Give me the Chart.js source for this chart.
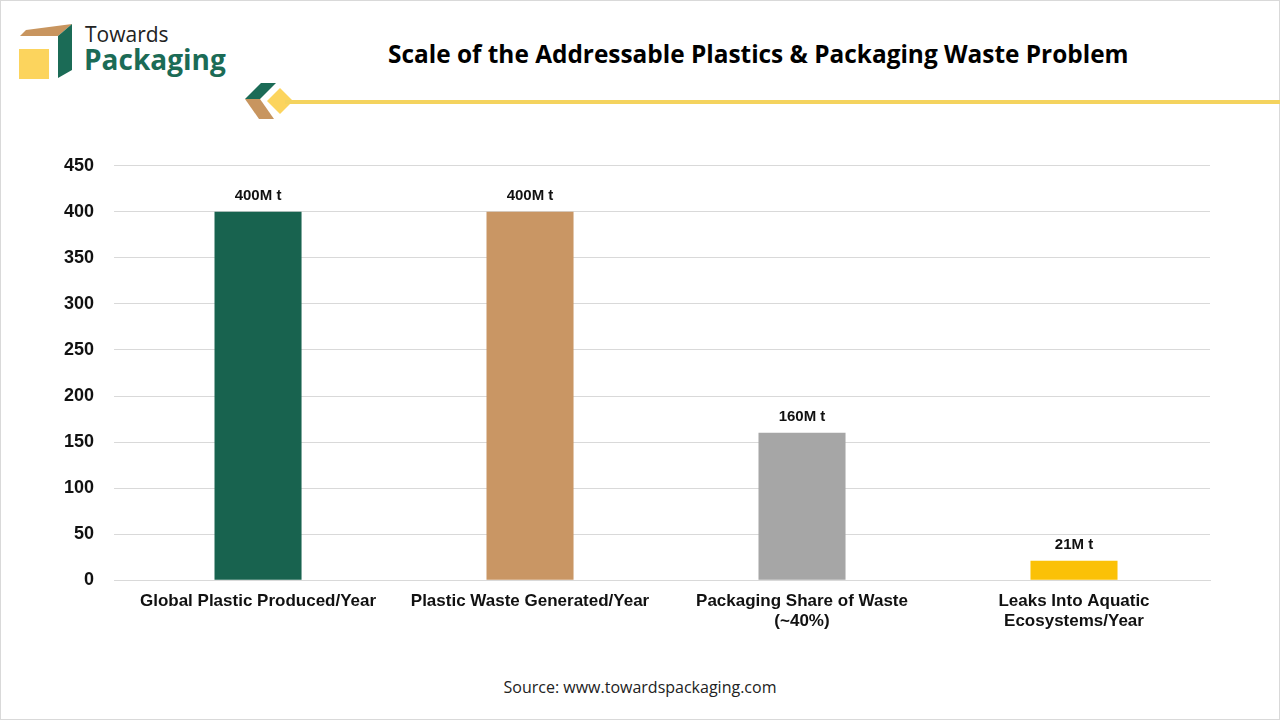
<!DOCTYPE html>
<html><head><meta charset="utf-8">
<script src="https://cdn.jsdelivr.net/npm/chart.js@4"></script>
<style>
body{margin:0;width:1280px;height:720px;background:#fff;font-family:"Liberation Sans",Arial,sans-serif;overflow:hidden}
.frame{position:absolute;left:0;top:0;width:1278px;height:718px;border:1px solid #d9d9d9}
.title{position:absolute;left:388px;top:37px;font:bold 24.4px "Open Sans",sans-serif;color:#000}
.logo{position:absolute;left:18px;top:22px}
.brand1{position:absolute;left:85px;top:20px;font:21px "Open Sans",sans-serif;color:#222}
.brand2{position:absolute;left:84px;top:40px;font:bold 28px "Open Sans",sans-serif;color:#1b6b56}
.line{position:absolute;left:285px;top:100px;width:995px;height:4px;background:#f4d35e}
.src{position:absolute;left:0;width:1280px;top:676px;text-align:center;font:16px "Open Sans",sans-serif;color:#222}
#wrap{position:absolute;left:44px;top:135px;width:1186px;height:500px}
</style></head><body>
<div class="frame"></div>
<svg class="logo" width="60" height="60" viewBox="0 0 60 60">
<polygon points="8,8 54,2 40,14 2,14" fill="#c8955f"/>
<rect x="1" y="27" width="30" height="30" fill="#fcd45d"/>
<polygon points="40,14 54,2 54,48 40,56" fill="#1b6b56"/>
</svg>
<div class="brand1">Towards</div>
<div class="brand2">Packaging</div>
<svg style="position:absolute;left:243px;top:82px" width="50" height="40">
<polygon points="2,17 18,1 33,1 17,17" fill="#1b6b56"/>
<polygon points="2,17 17,17 31,37 16,37" fill="#c8955f"/>
<polygon points="24,19 37,6 50,19 37,32" fill="#fcd45d"/>
</svg>
<div class="line"></div>
<div class="title">Scale of the Addressable Plastics &amp; Packaging Waste Problem</div>
<div id="wrap"><canvas id="c"></canvas></div>
<div class="src">Source: www.towardspackaging.com</div>
<script>
const categories = [["Global Plastic Produced/Year"],["Plastic Waste Generated/Year"],["Packaging Share of Waste","(~40%)"],["Leaks Into Aquatic","Ecosystems/Year"]];
const values = [400, 400, 160, 21];
const valueLabels = ["400M t","400M t","160M t","21M t"];
const colors = ["#18634f","#c99664","#a6a6a6","#fbc107"];

const labelPlugin = {
  id: "vals",
  afterDatasetsDraw(chart) {
    const ctx = chart.ctx;
    chart.getDatasetMeta(0).data.forEach((bar, i) => {
      ctx.save();
      ctx.font = "bold 15px 'Liberation Sans', Arial";
      ctx.fillStyle = "#111";
      ctx.textAlign = "center";
      ctx.fillText(valueLabels[i], bar.x, bar.y - 12);
      ctx.restore();
    });
  }
};

new Chart(document.getElementById("c"), {
  type: "bar",
  data: { labels: categories, datasets: [{ data: values, backgroundColor: colors, barPercentage: 0.32, categoryPercentage: 1 }] },
  options: {
    responsive: true, maintainAspectRatio: false, animation: false,
    layout: { padding: { right: 20 } },
    plugins: { legend: { display: false }, tooltip: { enabled: false } },
    scales: {
      x: { grid: { display: false }, border: { color: "#d9d9d9" },
           ticks: { color: "#111", font: { size: 17, weight: "bold", family: "'Liberation Sans', Arial" }, maxRotation: 0 } },
      y: { min: 0, max: 450, grid: { color: "#d9d9d9" }, border: { display: false },
           ticks: { stepSize: 50, color: "#111", padding: 20, font: { size: 18, weight: "bold", family: "'Liberation Sans', Arial" } } }
    }
  },
  plugins: [labelPlugin]
});
</script>
</body></html>
